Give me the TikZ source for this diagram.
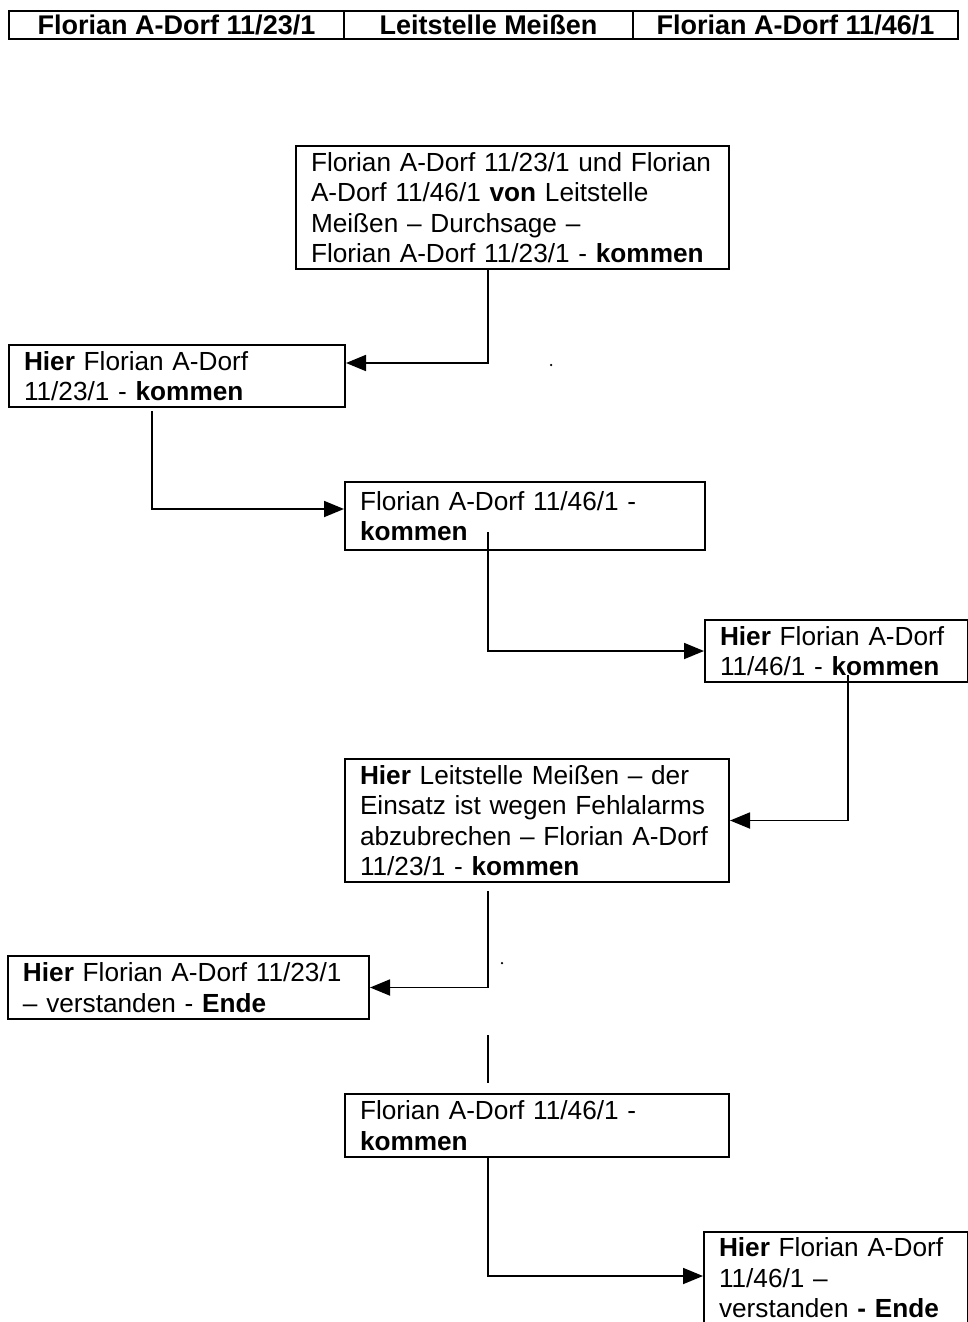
\documentclass[tikz,border=0pt]{standalone}
\usepackage{fontspec}
\setmainfont{Liberation Sans}
\usetikzlibrary{arrows.meta, positioning, calc}
\definecolor{fkInk}{HTML}{000000}
\tikzset{
  msg/.style={
    draw=fkInk, line width=2pt, anchor=north west, align=left,
    inner xsep=15pt, inner ysep=0pt, text=fkInk,
    font=\fontsize{26.2}{30.5}\selectfont
  },
  headcell/.style={
    draw=fkInk, line width=2pt, anchor=north west, inner sep=0pt,
    minimum height=28pt, text=fkInk,
    font=\fontsize{27}{28}\selectfont\bfseries
  },
  flow/.style={-{Triangle[length=20pt, width=16pt]}, line width=1.8pt, draw=fkInk},
  link/.style={line width=1.8pt, draw=fkInk},
  speck/.style={circle, fill=fkInk, inner sep=0pt, minimum size=2.5pt},
}

\begin{document}
\begin{tikzpicture}[x=1pt, y=-1pt]
  \useasboundingbox (0,0) rectangle (968,1322);

  % header row
  \node[headcell, minimum width=335pt] (h1) at (8,10)   {Florian A-Dorf 11/23/1};
  \node[headcell, minimum width=289pt] (h2) at (343,10) {Leitstelle Meißen};
  \node[headcell, minimum width=325pt] (h3) at (632,10) {Florian A-Dorf 11/46/1};

  % messages
  \node[msg, text width=403pt, minimum height=123pt] (b1) at (295,145)
    {\mbox{Florian A-Dorf 11/23/1 und Florian}\\A-Dorf 11/46/1 \textbf{von} Leitstelle\\Meißen – Durchsage –\\\mbox{Florian A-Dorf 11/23/1 - \textbf{kommen}}};
  \node[msg, text width=306pt, minimum height=62pt] (b2) at (8,344)
    {\textbf{Hier} Florian A-Dorf\\11/23/1 - \textbf{kommen}};
  \node[msg, text width=330pt, minimum height=68pt] (b3) at (344,481)
    {Florian A-Dorf 11/46/1 -\\\textbf{kommen}};
  \node[msg, text width=233pt, minimum height=62pt] (b4) at (704,619)
    {\textbf{Hier} Florian A-Dorf\\11/46/1 - \textbf{kommen}};
  \node[msg, text width=354pt, minimum height=123pt] (b5) at (344,758)
    {\textbf{Hier} Leitstelle Meißen – der\\Einsatz ist wegen Fehlalarms\\abzubrechen – Florian A-Dorf\\11/23/1 - \textbf{kommen}};
  \node[msg, text width=331pt, minimum height=63pt] (b6) at (7,955)
    {\textbf{Hier} Florian A-Dorf 11/23/1\\– verstanden - \textbf{Ende}};
  \node[msg, text width=354pt, minimum height=63pt] (b7) at (344,1093)
    {Florian A-Dorf 11/46/1 -\\\textbf{kommen}};
  \node[msg, text width=234pt, minimum height=92pt] (b8) at (703,1231)
    {\textbf{Hier} Florian A-Dorf\\11/46/1 –\\verstanden \textbf{- Ende}};

  % connector starts
  \coordinate (s1) at (488,268);
  \coordinate (s2) at (152,411);
  \coordinate (s3) at (488,532);
  \coordinate (s4) at (848,675);
  \coordinate (s5) at (488,891);
  \coordinate (s6) at (488,1035);
  \coordinate (s7) at (488,1156);

  \draw[flow] (s1) |- ([yshift=13pt]b2.east);
  \draw[flow] (s2) |- ([yshift=7pt]b3.west);
  \draw[flow] (s3) |- (b4.west);
  \draw[flow] (s4) |- (b5.east);
  \draw[flow] (s5) |- (b6.east);
  \draw[link] (s6) -- ([yshift=10pt]b7.north -| s6);
  \draw[flow] (s7) |- ([yshift=2pt]b8.west);

  % stray specks
  \node[speck] (d1) at (551,365) {};
  \node[speck] (d2) at (502,963) {};
\end{tikzpicture}
\end{document}
